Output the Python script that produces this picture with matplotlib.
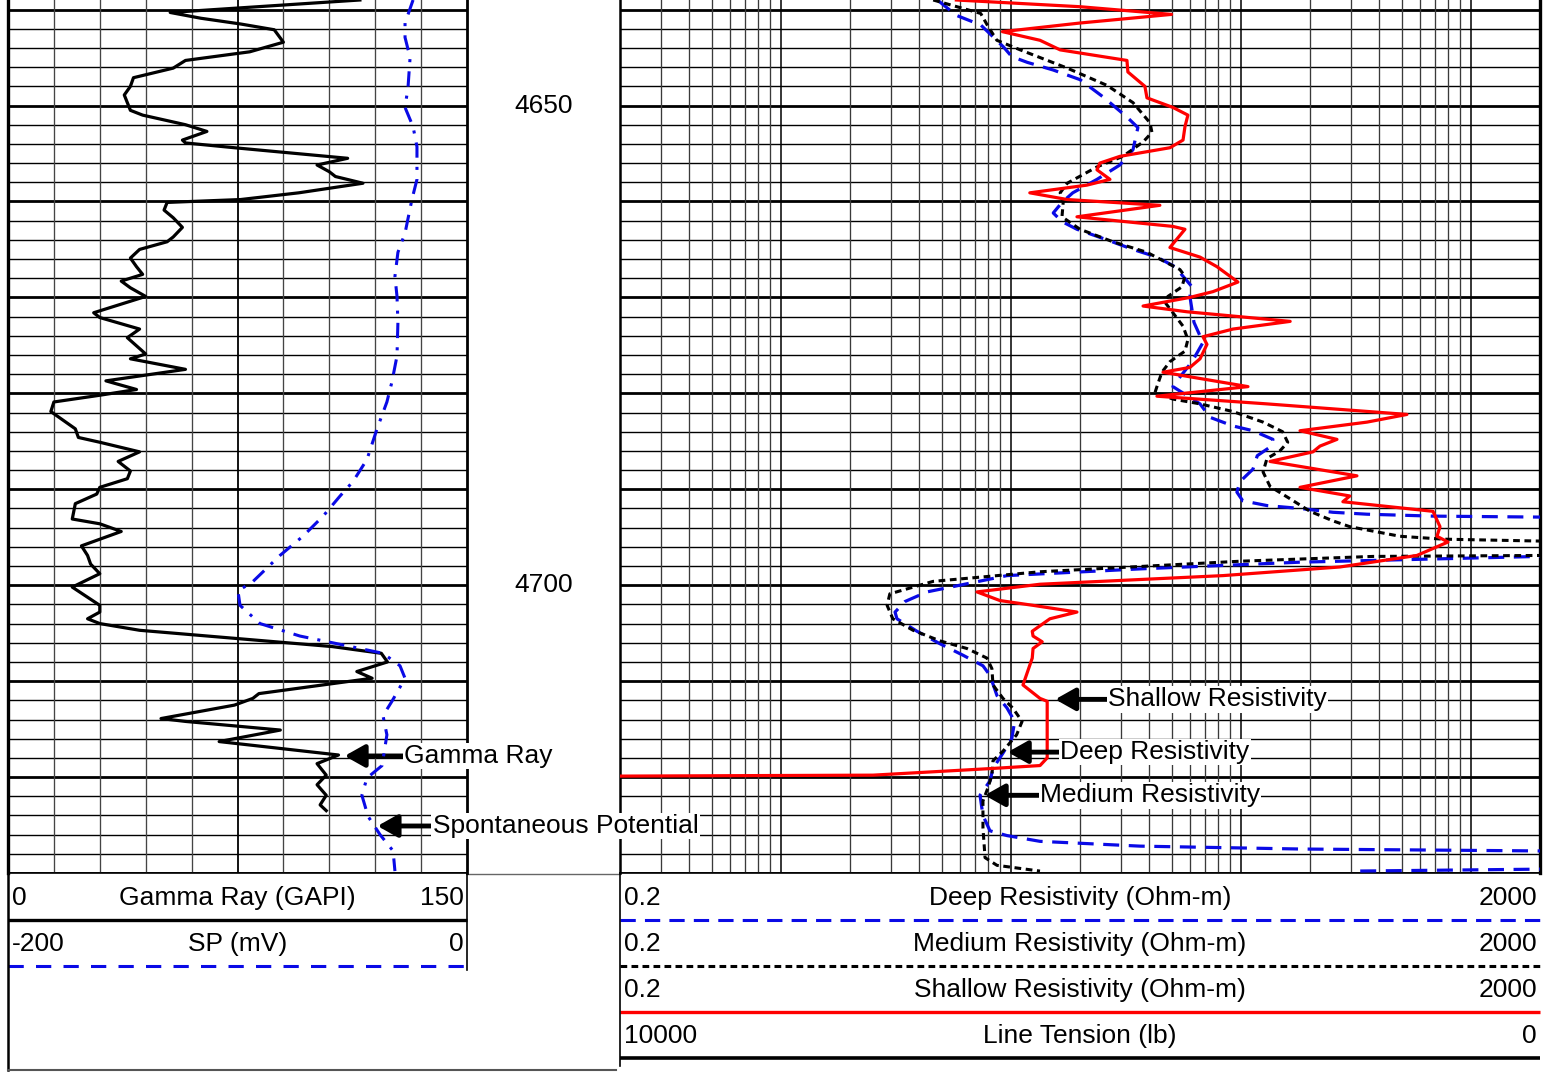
import matplotlib
matplotlib.use('Agg')
import matplotlib.pyplot as plt
import matplotlib.transforms as mtrans
import numpy as np

plt.rcParams['font.family'] = ['Liberation Sans', 'DejaVu Sans']

W, H = 1554, 1073
top_depth, base_depth = 4639.0, 4730.0

# ---- log data (depth in ft) ----
gr_depth = [4639.0, 4640.3, 4640.9, 4641.5, 4642.1, 4643.4, 4644.4, 4645.3, 4646.1, 4647.1,
            4648.0, 4648.9, 4649.7, 4650.5, 4651.0, 4652.0, 4652.7, 4653.6, 4653.9, 4654.4,
            4655.5, 4656.2, 4656.9, 4657.4, 4658.1, 4659.1, 4659.8, 4660.1, 4660.9, 4661.7,
            4662.7, 4663.7, 4664.2, 4665.0, 4665.9, 4666.8, 4667.6, 4668.3, 4669.0, 4669.9,
            4671.6, 4672.1, 4673.3, 4674.2, 4675.9, 4676.4, 4677.5, 4678.7, 4679.6, 4680.2,
            4680.9, 4681.9, 4683.7, 4684.6, 4685.1, 4686.1, 4687.1, 4688.1, 4688.9, 4689.8,
            4690.5, 4691.5, 4693.1, 4693.6, 4694.4, 4695.9, 4696.9, 4697.8, 4698.8, 4700.2,
            4702.1, 4702.8, 4703.5, 4704.0, 4704.7, 4706.4, 4707.1, 4708.0, 4709.0, 4709.7,
            4711.3, 4711.8, 4712.5, 4713.9, 4714.2, 4715.1, 4716.3, 4717.7, 4718.6, 4719.8,
            4720.8, 4721.9, 4722.9, 4723.5]
gr_api = [115, 53, 63, 76, 87, 90, 79, 58, 54, 41,
          40, 38, 39, 40, 44, 58, 65, 57, 58, 74,
          111, 101, 105, 107, 116, 95, 76, 52, 51, 54,
          57, 54, 52, 43, 40, 42, 44, 37, 40, 45,
          28, 30, 43, 39, 45, 40, 58, 32, 42, 30,
          15, 14, 22, 23, 30, 43, 36, 40, 39, 30,
          29, 22, 21, 30, 37, 24, 26, 27, 30, 21,
          30, 30, 26, 30, 43, 106, 122, 124, 114, 119,
          82, 80, 74, 50, 58, 89, 69, 108, 101, 104,
          101, 104, 102, 104]

sp_depth = [4639.0, 4641.4, 4642.9, 4645.0, 4648.1, 4650.2, 4652.2, 4654.3, 4657.7, 4659.8,
            4663.3, 4665.3, 4667.8, 4669.9, 4672.6, 4676.1, 4678.8, 4680.9, 4683.7, 4686.9,
            4689.2, 4690.7, 4692.8, 4694.9, 4696.9, 4699.6, 4700.6, 4702.1, 4704.0, 4705.3,
            4706.1, 4707.1, 4708.4, 4709.7, 4712.1, 4713.6, 4715.6, 4718.8, 4720.1, 4721.9,
            4724.1, 4726.0, 4727.7, 4729.8]
sp_mv = [-23.5, -27, -27, -24.8, -25.7, -27, -23.5, -21.8, -21.8, -24,
         -27, -30.1, -31.4, -30.5, -30.1, -30.5, -32.7, -34.9, -39.2, -43.6,
         -49.7, -55.3, -62.7, -71.5, -81.5, -93.2, -99.8, -98.9, -90.2, -72.8,
         -56.6, -36.6, -29.2, -27, -32.7, -36.6, -34.9, -37, -43.6, -45.8,
         -43.1, -37.9, -32.2, -31.4]

sh_depth = [4639.0, 4639.7, 4640.5, 4641.4, 4642.3, 4643.2, 4644.2, 4645.3, 4646.5, 4648.0,
            4649.2, 4650.2, 4651.0, 4652.2, 4653.6, 4654.4, 4655.3, 4656.0, 4656.7, 4657.7,
            4658.3, 4659.1, 4659.8, 4660.4, 4661.6, 4662.6, 4662.9, 4664.8, 4665.8, 4666.8,
            4668.4, 4669.4, 4670.0, 4670.9, 4671.5, 4672.5, 4673.3, 4674.1, 4674.9, 4676.4,
            4677.3, 4677.8, 4679.3, 4680.3, 4681.1, 4682.2, 4683.0, 4683.9, 4684.8, 4685.5,
            4686.1, 4687.1, 4688.6, 4689.8, 4690.7, 4691.3, 4692.3, 4693.9, 4694.9, 4695.5,
            4696.9, 4698.1, 4699.0, 4699.9, 4700.7, 4701.6, 4702.1, 4702.8, 4703.5, 4704.8,
            4705.3, 4705.9, 4706.6, 4707.6, 4710.4, 4711.8, 4712.1, 4718.0, 4718.8, 4719.1,
            4719.8, 4719.9]
sh_ohmm = [5.8, 20, 50, 20, 9.2, 13.4, 16.4, 32, 32.3, 38.3,
           39.1, 50.7, 58.9, 57.2, 56.1, 49.2, 29.8, 24.4, 23.7, 27,
           21.4, 12.1, 17.6, 44.5, 19.4, 50.7, 57.2, 49.2, 66.5, 78.8,
           97.2, 75.7, 60.1, 37.6, 58.4, 164, 92.5, 68.5, 71.3, 66.5,
           60.1, 45.9, 107.5, 43.2, 130, 528, 354, 181, 262, 221,
           206, 134, 320, 181, 298, 278, 685, 735, 713, 796,
           583, 270, 83.7, 13.4, 7.13, 8.97, 12.5, 19.4, 14.8, 12.4,
           12.5, 13.7, 12.5, 12.4, 11.3, 13.4, 14.4, 14.4, 13.4, 8.37,
           2.52, 0.2]

md_depth = [4639.0, 4640.4, 4641.6, 4643.2, 4644.2, 4646.1, 4647.9, 4649.7, 4651.8, 4652.8,
            4653.8, 4655.3, 4656.4, 4658.1, 4659.1, 4660.1, 4661.6, 4662.9, 4664.2, 4665.3,
            4667.1, 4667.8, 4668.9, 4669.9, 4670.5, 4671.6, 4673.0, 4674.4, 4675.6, 4676.7,
            4677.8, 4679.3, 4679.9, 4680.6, 4681.1, 4681.9, 4683.0, 4684.0, 4685.1, 4686.0,
            4686.8, 4688.2, 4689.7, 4691.0, 4692.3, 4693.3, 4693.9, 4694.9, 4695.2, 4695.4,
            4696.2, 4696.9, 4697.0, 4697.5, 4698.6, 4699.6, 4700.9, 4702.1, 4703.5, 4704.7,
            4705.8, 4706.6, 4707.6, 4708.7, 4710.4, 4711.8, 4712.8, 4714.2, 4715.6, 4717.3,
            4718.3, 4719.8, 4721.1, 4722.5, 4725.3, 4728.4, 4729.2, 4729.8]
md_ohmm = [4.6, 7.4, 7.9, 8.7, 11, 17.6, 26.2, 34, 40.3, 41.1,
           37.6, 30.7, 23.7, 17.6, 16.4, 16.9, 16.7, 20, 27.8, 39.1,
           54.4, 57.2, 55.5, 48.2, 46.8, 50.7, 56.1, 58.9, 57.2, 49.2,
           45.4, 43.2, 42.4, 50.7, 66.5, 92.5, 125, 152, 160, 148,
           130, 125, 134, 164, 200, 252, 298, 492, 757, 2000,
           5000, 2000, 376, 99.3, 13.4, 4.6, 2.98, 2.9, 3.07, 3.76,
           4.92, 6.45, 7.88, 8.28, 8.37, 9.25, 10.2, 11.2, 10.6, 9.25,
           8.37, 8.28, 7.96, 7.57, 7.57, 7.73, 8.71, 13.4]

dp_depth = [4639.0, 4640.6, 4641.6, 4642.5, 4643.9, 4644.9, 4645.5, 4646.3, 4647.3, 4649.1,
            4651.2, 4652.3, 4654.6, 4656.2, 4657.7, 4659.1, 4660.1, 4661.2, 4662.1, 4662.9,
            4664.0, 4665.0, 4665.8, 4666.8, 4668.9, 4669.9, 4672.6, 4673.3, 4674.7, 4676.7,
            4678.3, 4679.3, 4681.1, 4682.5, 4683.4, 4683.9, 4684.8, 4685.5, 4686.5, 4687.9,
            4689.2, 4690.3, 4691.2, 4691.7, 4692.0, 4692.4, 4692.6, 4692.8, 4692.9, 4695.0,
            4697.0, 4697.6, 4698.3, 4699.0, 4700.7, 4701.7, 4702.8, 4703.5, 4704.8, 4706.1,
            4707.3, 4708.4, 4709.4, 4711.5, 4712.8, 4714.2, 4716.0, 4717.5, 4719.1, 4720.4,
            4721.9, 4724.0, 4725.6, 4726.1, 4726.7, 4727.2, 4727.5, 4727.7, 4728.6, 4729.6,
            4729.8]
dp_ohmm = [4.8, 5.8, 7.4, 8.1, 9.3, 10.1, 11.8, 15.3, 20, 25.2,
           32, 35.7, 34, 29.8, 23.7, 18.6, 16.7, 15.3, 16.7, 19.4,
           26.2, 34, 43.2, 51.7, 61.4, 60.1, 62.6, 64.5, 68.5, 61.4,
           54.4, 50.7, 66.5, 73.5, 92.5, 113, 138, 136, 118, 113,
           99.3, 96.2, 102, 130, 181, 252, 354, 685, 2000, 5000,
           2000, 181, 36.5, 9.63, 4.32, 3.47, 3.14, 3.2, 3.91, 4.92,
           6.2, 7.57, 8.12, 8.71, 9.63, 10.4, 10.1, 9.25, 8.37, 8.12,
           7.35, 7.57, 8.12, 9.63, 13.4, 36.5, 181, 2000, 5000, 2000,
           314]

depth_labels = [4650, 4700]

BLUE = '#0a0ae6'
RED = '#ff0000'
FS = 19

fig = plt.figure(figsize=(W / 100, H / 100), dpi=100)


def px_axes(x0, y0, x1, y1):
    return fig.add_axes([x0 / W, 1 - y1 / H, (x1 - x0) / W, (y1 - y0) / H])


# header / frame overlay in pixel units
hdr = px_axes(0, 0, W, H)
hdr.set_xlim(0, W)
hdr.set_ylim(H, 0)
hdr.axis('off')
hdr.set_zorder(0)

ax_gr = px_axes(8, 0, 467, 873)
ax_gr.set_xlim(0, 150)
ax_gr.set_ylim(base_depth, top_depth)
ax_gr.set_zorder(2)
ax_sp = ax_gr.twiny()
ax_sp.set_xlim(-200, 0)
ax_sp.set_zorder(3)

ax_res = px_axes(620, 0, 1540, 873)
ax_res.set_xscale('log')
ax_res.set_xlim(0.2, 2000)
ax_res.set_ylim(base_depth, top_depth)
ax_res.set_zorder(1)

for ax in (ax_gr, ax_sp, ax_res):
    ax.set_xticks([])
    ax.set_xticks([], minor=True)
    ax.set_yticks([])
    ax.set_yticks([], minor=True)
for s in ax_sp.spines.values():
    s.set_visible(False)

# depth grid
for ax in (ax_gr, ax_res):
    for d in np.arange(4640, 4731, 2):
        ax.axhline(d, color='black', lw=2.0 if d % 10 == 0 else 1.0, zorder=1)
    ax.spines['top'].set_visible(False)
    ax.spines['bottom'].set_linewidth(1.2)

# linear grid for GR track
for v in np.arange(15, 150, 15):
    ax_gr.axvline(v, color='black' if v == 75 else '#444444',
                  lw=1.3 if v == 75 else 0.95, zorder=1)
ax_gr.spines['left'].set_linewidth(2.4)
ax_gr.spines['right'].set_linewidth(2.0)

# log grid for resistivity track
for n in range(-1, 4):
    for k in range(1, 10):
        v = k * 10.0 ** n
        if 0.2 < v < 2000:
            ax_res.axvline(v, color='black' if k == 1 else '#3a3a3a',
                           lw=1.1 if k == 1 else 0.95, zorder=1)
ax_res.spines['left'].set_linewidth(1.8)
ax_res.spines['right'].set_linewidth(2.4)

# curves
curve = dict(solid_joinstyle='round', dash_joinstyle='round', zorder=3)
ax_gr.plot(gr_api, gr_depth, color='black', lw=2.3, **curve)
ax_sp.plot(sp_mv, sp_depth, color=BLUE, lw=2.2, dashes=(5, 3, 1, 3), **curve)
ax_res.plot(dp_ohmm, dp_depth, color=BLUE, lw=2.3, dashes=(5, 3), **curve)
ax_res.plot(md_ohmm, md_depth, color='black', lw=2.2, dashes=(2.2, 1.5), **curve)
ax_res.plot(sh_ohmm, sh_depth, color=RED, lw=2.3, solid_joinstyle='round', zorder=4)

# curve call-outs
arrow = dict(arrowstyle='-|>,head_length=0.8,head_width=0.45', lw=3.5,
             color='black', shrinkA=0, shrinkB=0, mutation_scale=15)
box = dict(boxstyle='square,pad=0.05', fc='white', ec='none')
callouts = [
    (ax_gr, 'Gamma Ray', 110, 129.5, 4717.8),
    (ax_sp, 'Spontaneous Potential', -39, -15, 4725.1),
    (ax_res, 'Shallow Resistivity', 15.6, 26.5, 4711.9),
    (ax_res, 'Deep Resistivity', 9.7, 16.4, 4717.4),
    (ax_res, 'Medium Resistivity', 7.7, 13.4, 4721.9),
]
for ax, label, tip, tx, d in callouts:
    ax.annotate(label, xy=(tip, d), xytext=(tx, d), ha='left', va='center',
                fontsize=FS, bbox=box, arrowprops=arrow,
                annotation_clip=False, zorder=6)

# depth numbers
tr = mtrans.blended_transform_factory(fig.transFigure, ax_gr.transData)
for d in depth_labels:
    fig.text(544 / W, d, str(d), transform=tr, ha='center', va='center', fontsize=FS)

# header panels
gr_rows = [('0', 'Gamma Ray (GAPI)', '150', dict(color='black', lw=2.4)),
           ('-200', 'SP (mV)', '0', dict(color=BLUE, lw=2.2, dashes=(5, 4)))]
res_rows = [('0.2', 'Deep Resistivity (Ohm-m)', '2000', dict(color=BLUE, lw=2.2, dashes=(5, 3))),
            ('0.2', 'Medium Resistivity (Ohm-m)', '2000', dict(color='black', lw=2.2, dashes=(2.2, 1.4))),
            ('0.2', 'Shallow Resistivity (Ohm-m)', '2000', dict(color=RED, lw=2.4)),
            ('10000', 'Line Tension (lb)', '0', dict(color='black', lw=2.6))]

row_h = 46
for (x0, x1, rows) in [(8, 467, gr_rows), (620, 1540, res_rows)]:
    for i, (lo, name, hi, style) in enumerate(rows):
        yt = 898 + i * row_h
        hdr.text(x0 + 4, yt, lo, ha='left', va='center', fontsize=FS)
        hdr.text((x0 + x1) / 2, yt, name, ha='center', va='center', fontsize=FS)
        hdr.text(x1 - 3, yt, hi, ha='right', va='center', fontsize=FS)
        hdr.plot([x0, x1], [yt + 22, yt + 22], solid_capstyle='butt', **style)

# frame lines of the header block
hdr.plot([467, 620], [873.5, 873.5], color='#666666', lw=1.0)
hdr.plot([8, 8], [873, 1070], color='black', lw=1.8)
hdr.plot([467, 467], [873, 970], color='black', lw=1.2)
hdr.plot([620, 620], [873, 1066], color='black', lw=1.2)
hdr.plot([8, 616], [1070, 1070], color='#555555', lw=1.5)

fig.savefig('out.png', dpi=100)
